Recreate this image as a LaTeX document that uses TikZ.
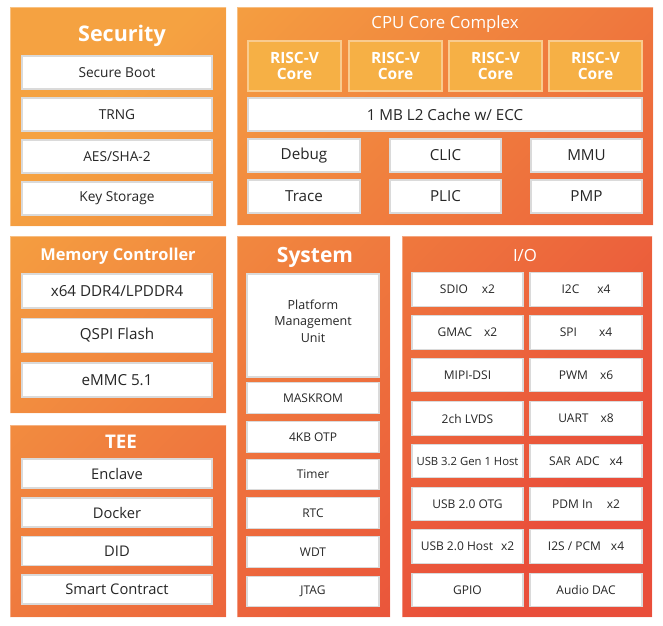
\documentclass[tikz,border=0pt]{standalone}
\usepackage{fontspec}
\setmainfont{Open Sans}
\definecolor{cTop}{HTML}{F5A241}
\definecolor{cMid}{HTML}{F1883D}
\definecolor{cBot}{HTML}{E94E3A}
\definecolor{boxline}{HTML}{DADADA}
\definecolor{coreFill}{HTML}{F6B045}
\definecolor{coreLine}{HTML}{F9CB8E}
\definecolor{txt}{HTML}{262626}
\tikzset{
  wbox/.style={draw=boxline, line width=1.2pt, fill=white, inner sep=0pt, text=txt, align=center},
  secbox/.style={wbox, minimum width=190pt, minimum height=33pt, font=\fontsize{13.7}{16}\selectfont},
  cpubox/.style={wbox, minimum height=33pt, font=\fontsize{15.2}{17}\selectfont},
  membox/.style={wbox, minimum width=190pt, minimum height=34pt, font=\fontsize{15.2}{17}\selectfont},
  teebox/.style={wbox, minimum width=190pt, minimum height=29pt, font=\fontsize{14.7}{16}\selectfont},
  sysbox/.style={wbox, minimum width=132pt, minimum height=30.5pt, font=\fontsize{12}{16}\selectfont},
  iobox/.style={wbox, minimum height=33.5pt, font=\fontsize{12}{14}\selectfont},
  corebox/.style={draw=coreLine, line width=1.2pt, fill=coreFill, minimum width=93pt, minimum height=50pt,
     inner sep=0pt, text=white, align=center, font=\bfseries\fontsize{15.5}{16.5}\selectfont},
  ttl/.style={text=white, inner sep=0pt, font=\bfseries\fontsize{21}{24}\selectfont},
  ttlr/.style={text=white, inner sep=0pt, font=\fontsize{16.8}{19}\selectfont},
  plain/.style={inner sep=0pt, text=txt, align=center},
}
\begin{document}
\begin{tikzpicture}[x=1pt,y=-1pt]
\useasboundingbox (0,0) rectangle (663,625);
\fill[white] (0,0) rectangle (663,625);
% panels with one common gradient
\shade[top color=cTop, middle color=cMid, bottom color=cBot, shading angle=45]
  (10,7) rectangle (226,226)
  (237,7) rectangle (653,225)
  (10,236) rectangle (226,413)
  (10,425) rectangle (226,617)
  (237,236) rectangle (390,617)
  (402,236) rectangle (652,617);
\draw[white, opacity=0.35, line width=0.8pt]
  (10,7) rectangle (226,226)
  (237,7) rectangle (653,225)
  (10,236) rectangle (226,413)
  (10,425) rectangle (226,617)
  (237,236) rectangle (390,617)
  (402,236) rectangle (652,617);

% Security
\node[ttl, font=\bfseries\fontsize{21.5}{24}\selectfont] (tsec) at (122,36) {Security};
\node[secbox] (sb) at (117,72.5) {Secure Boot};
\node[secbox] (trng) at (117,114.5) {TRNG};
\node[secbox] (aes) at (117,156.5) {AES/SHA-2};
\node[secbox] (ks) at (117,198.5) {Key Storage};

% CPU Core Complex
\node[ttlr] (tcpu) at (445,24) {CPU Core Complex};
\node[corebox] (c1) at (294.5,66) {RISC-V\\Core};
\node[corebox] (c2) at (395.5,66) {RISC-V\\Core};
\node[corebox] (c3) at (495.5,66) {RISC-V\\Core};
\node[corebox] (c4) at (595.5,66) {RISC-V\\Core};
\node[cpubox, minimum width=394pt] (l2) at (445,114.5) {1 MB L2 Cache w/ ECC};
\node[cpubox, minimum width=112pt] (dbg) at (304,155.5) {Debug};
\node[cpubox, minimum width=111pt] (clic) at (445.5,155.5) {CLIC};
\node[cpubox, minimum width=111pt] (mmu) at (586.5,155.5) {MMU};
\node[cpubox, minimum width=112pt] (trace) at (304,196.5) {Trace};
\node[cpubox, minimum width=111pt] (plic) at (445.5,196.5) {PLIC};
\node[cpubox, minimum width=111pt] (pmp) at (586.5,196.5) {PMP};

% Memory Controller
\node[ttl, font=\bfseries\fontsize{16.4}{19}\selectfont] (tmem) at (118,256.5) {Memory Controller};
\node[membox] (ddr) at (117,291) {x64 DDR4/LPDDR4};
\node[membox] (qspi) at (117,335.5) {QSPI Flash};
\node[membox] (emmc) at (117,380) {eMMC 5.1};

% TEE
\node[ttl, font=\bfseries\fontsize{18.8}{21}\selectfont] (ttee) at (121,442) {TEE};
\node[teebox] (encl) at (117,473.5) {Enclave};
\node[teebox] (dock) at (117,512.5) {Docker};
\node[teebox] (did) at (117,551) {DID};
\node[teebox] (smart) at (117,589.5) {Smart Contract};

% System
\node[ttl] (tsys) at (315,257) {System};
\node[sysbox, minimum height=103pt] (pmu) at (313,325.5) {};
\node[plain, font=\fontsize{12.5}{16.5}\selectfont] (pmut) at (313,321) {Platform\\Management\\Unit};
\node[sysbox] (mask) at (313,398) {MASKROM};
\node[sysbox] (otp) at (313,437) {4KB OTP};
\node[sysbox] (timer) at (313,474.5) {Timer};
\node[sysbox] (rtc) at (313,513) {RTC};
\node[sysbox] (wdt) at (313,552) {WDT};
\node[sysbox] (jtag) at (313,591.5) {JTAG};

% I/O
\node[ttlr] (tio) at (525,255) {I/O};
\node[iobox, minimum width=111pt] (sdio) at (467.5,289.5) {SDIO\hspace{14pt}x2};
\node[iobox, minimum width=112pt] (i2c) at (586,289.5) {I2C\hspace{18pt}x4};
\node[iobox, minimum width=111pt] (gmac) at (467.5,332.5) {GMAC\hspace{12pt}x2};
\node[iobox, minimum width=112pt] (spi) at (586,332.5) {SPI\hspace{22pt}x4};
\node[iobox, minimum width=111pt] (mipi) at (467.5,375) {MIPI-DSI};
\node[iobox, minimum width=112pt] (pwm) at (586,375) {PWM\hspace{12pt}x6};
\node[iobox, minimum width=111pt] (lvds) at (467.5,418.5) {2ch LVDS};
\node[iobox, minimum width=112pt] (uart) at (586,418.5) {UART\hspace{12pt}x8};
\node[iobox, minimum width=111pt, font=\fontsize{11.3}{14}\selectfont] (usb3) at (467.5,461) {USB 3.2 Gen 1 Host};
\node[iobox, minimum width=112pt] (sar) at (586,461) {SAR\hspace{5pt}ADC\hspace{10pt}x4};
\node[iobox, minimum width=111pt] (otg) at (467.5,504) {USB 2.0 OTG};
\node[iobox, minimum width=112pt] (pdm) at (586,504) {PDM In\hspace{14pt}x2};
\node[iobox, minimum width=111pt] (usbh) at (467.5,546.5) {USB 2.0 Host\hspace{8pt}x2};
\node[iobox, minimum width=112pt] (i2s) at (586,546.5) {I2S / PCM\hspace{10pt}x4};
\node[iobox, minimum width=111pt] (gpio) at (467.5,590) {GPIO};
\node[iobox, minimum width=112pt] (dac) at (586,590) {Audio DAC};
\end{tikzpicture}
\end{document}
